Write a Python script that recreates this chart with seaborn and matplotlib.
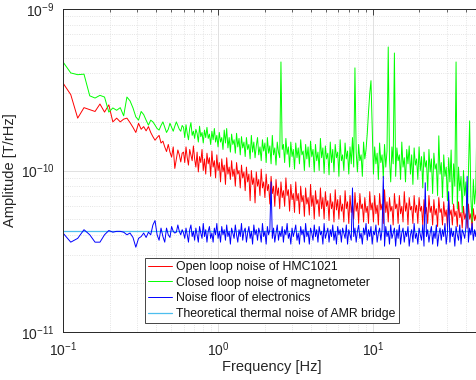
import numpy as np
import pandas as pd
import matplotlib
matplotlib.use("Agg")
import matplotlib.pyplot as plt
import seaborn as sns

# ---------------- data ----------------
# frequency grid: FFT bins (0.0122 Hz) at the low end, log-spaced above 0.6 Hz
freq_low = 0.1 + 0.0122 * np.arange(41)
freq_high = np.geomspace(0.6, 48, 240)

# amplitudes in pT (1e-12 T)
open_loop_low = [348, 295, 211, 245, 238, 232, 258, 230, 255, 200,
                 211, 200, 208, 211, 198, 185, 172, 196, 180, 187,
                 176, 187, 172, 162, 154, 160, 165, 148, 152, 140,
                 131, 145, 130, 121, 140, 103, 118, 134, 125, 113, 128]
open_loop_high = [130, 112, 140, 120, 108, 135, 125, 115, 142, 118,
                  105, 130, 98, 122, 112, 135, 100, 118, 95, 128,
                  110, 120, 92, 132, 105, 115, 90, 125, 100, 112,
                  85, 118, 98, 108, 82, 120, 95, 105, 88, 115,
                  92, 102, 80, 112, 95, 100, 78, 108, 90, 98,
                  75, 105, 85, 95, 65, 100, 82, 90, 63, 98,
                  80, 88, 70, 102, 78, 85, 68, 95, 75, 82,
                  62, 92, 72, 80, 60, 88, 70, 78, 58, 85,
                  68, 75, 60, 90, 70, 76, 56, 82, 66, 72,
                  55, 85, 65, 72, 54, 80, 64, 70, 52, 78,
                  62, 68, 53, 82, 60, 70, 50, 75, 62, 66,
                  52, 78, 58, 68, 50, 74, 60, 65, 49, 72,
                  58, 64, 48, 76, 57, 66, 50, 70, 56, 62,
                  48, 75, 58, 64, 47, 70, 55, 62, 50, 73,
                  56, 63, 47, 72, 58, 62, 48, 68, 55, 60,
                  47, 74, 57, 63, 48, 70, 54, 61, 46, 72,
                  57, 62, 47, 76, 55, 64, 48, 68, 56, 60,
                  46, 72, 58, 62, 47, 70, 54, 60, 48, 74,
                  56, 63, 46, 68, 57, 60, 47, 70, 55, 61,
                  47, 68, 56, 60, 46, 66, 54, 59, 47, 70,
                  55, 60, 46, 66, 53, 58, 45, 68, 55, 58,
                  46, 64, 52, 57, 45, 66, 53, 57, 46, 62,
                  52, 56, 45, 64, 51, 55, 44, 60, 50, 54,
                  44, 62, 50, 54, 44, 58, 49, 53, 45, 56]

closed_loop_low = [470, 402, 392, 395, 290, 281, 292, 285, 230, 244,
                   236, 245, 218, 285, 270, 244, 215, 205, 232, 222,
                   205, 191, 205, 200, 191, 182, 178, 190, 200, 185,
                   172, 180, 196, 185, 175, 188, 200, 190, 180, 175, 190]
closed_loop_high = [185, 160, 192, 170, 155, 182, 198, 165, 175, 158,
                    180, 170, 150, 188, 162, 172, 148, 178, 160, 185,
                    158, 168, 145, 175, 155, 182, 150, 165, 140, 172,
                    150, 160, 135, 178, 148, 182, 138, 160, 130, 168,
                    145, 155, 128, 170, 140, 158, 125, 162, 138, 150,
                    122, 160, 135, 145, 118, 165, 130, 150, 120, 142,
                    160, 125, 140, 115, 155, 132, 148, 112, 160, 128,
                    142, 110, 165, 125, 138, 108, 150, 130, 120, 470,
                    135, 145, 112, 158, 126, 140, 105, 150, 122, 135,
                    102, 148, 120, 138, 110, 155, 125, 132, 100, 145,
                    118, 140, 105, 152, 122, 135, 98, 145, 115, 130,
                    100, 158, 120, 138, 96, 142, 118, 128, 94, 150,
                    112, 135, 98, 145, 120, 130, 92, 155, 115, 125,
                    100, 148, 118, 132, 95, 140, 110, 160, 105, 432,
                    130, 98, 145, 115, 125, 92, 150, 118, 135, 170,
                    230, 300, 360, 180, 95, 140, 110, 128, 88, 148,
                    112, 125, 90, 145, 105, 132, 582, 118, 85, 140,
                    110, 534, 92, 138, 115, 125, 88, 150, 105, 120,
                    85, 135, 110, 142, 95, 125, 82, 138, 108, 118,
                    88, 140, 100, 122, 78, 130, 105, 115, 75, 135,
                    98, 118, 72, 128, 102, 110, 70, 164, 95, 112,
                    68, 125, 92, 105, 65, 120, 85, 134, 62, 110,
                    80, 470, 58, 105, 75, 92, 55, 100, 70, 85,
                    50, 95, 203, 68, 48, 88, 62, 78, 220, 70]

electronics_low = [41, 36, 38, 43, 40, 36, 36, 40, 42.5, 41.5,
                   42, 42, 41.5, 40, 41, 38.5, 33.5, 38, 39, 41,
                   38.5, 41.5, 40, 46, 49, 40, 37, 44, 39, 36,
                   44, 40, 38.5, 45, 42, 41, 41.5, 46, 42, 40, 43]
electronics_high = [41, 38, 44, 40, 36, 43, 46, 39, 42, 37,
                    44, 40, 36, 45, 41, 38, 47, 39, 43, 36,
                    42, 45, 38, 41, 36, 44, 40, 47, 38, 42,
                    36, 45, 40, 43, 37, 46, 39, 42, 35, 44,
                    41, 38, 46, 40, 36, 43, 39, 47, 37, 42,
                    44, 36, 41, 45, 38, 42, 35, 46, 40, 43,
                    37, 44, 41, 36, 47, 39, 42, 35, 45, 40,
                    43, 85, 38, 44, 36, 41, 46, 37, 42, 39,
                    45, 36, 43, 40, 47, 38, 41, 35, 44, 39,
                    42, 46, 37, 41, 35, 45, 40, 43, 36, 47,
                    39, 42, 35, 44, 41, 37, 46, 39, 43, 36,
                    45, 40, 42, 35, 47, 38, 41, 44, 36, 43,
                    39, 46, 37, 42, 35, 45, 40, 43, 36, 44,
                    41, 38, 46, 35, 43, 40, 37, 78, 39, 44,
                    36, 42, 46, 38, 41, 35, 44, 40, 47, 37,
                    43, 39, 45, 35, 42, 40, 46, 36, 41, 44,
                    37, 43, 92, 34, 45, 39, 42, 35, 46, 38,
                    41, 44, 34, 43, 38, 46, 35, 41, 44, 36,
                    42, 39, 45, 34, 40, 43, 36, 47, 38, 41,
                    35, 44, 40, 37, 46, 34, 84, 39, 43, 36,
                    41, 45, 35, 42, 38, 46, 34, 40, 44, 37,
                    43, 39, 47, 35, 41, 74, 36, 44, 39, 42,
                    34, 45, 40, 37, 46, 35, 43, 41, 38, 45,
                    92, 36, 44, 40, 47, 37, 43, 39, 46, 42]

thermal_level = 42.5          # pT, flat theoretical thermal noise
thermal_freq = [0.1, 50]

labels = ["Open loop noise of HMC1021",
          "Closed loop noise of magnetometer",
          "Noise floor of electronics",
          "Theoretical thermal noise of AMR bridge"]
colors = ["#ff0000", "#00ff00", "#0000ff", "#4dbeee"]

# ---------------- figure ----------------
sns.set_theme(style="white")
plt.rcParams["font.family"] = ["Liberation Sans", "DejaVu Sans"]
plt.rcParams["mathtext.default"] = "regular"

fig = plt.figure(figsize=(4.77, 3.80), dpi=100)
ax = fig.add_axes([0.1321, 0.1263, 0.8763, 0.85])
ax.set_xscale("log")
ax.set_yscale("log")

freq = np.concatenate([freq_low, freq_high])
series = [np.array(open_loop_low + open_loop_high, float),
          np.array(closed_loop_low + closed_loop_high, float),
          np.array(electronics_low + electronics_high, float)]

df_th = pd.DataFrame({"f": thermal_freq, "a": np.array([thermal_level] * 2) * 1e-12})
sns.lineplot(data=df_th, x="f", y="a", ax=ax, color=colors[3], lw=0.9,
             zorder=2.0, legend=False)
for k, vals in enumerate(series):
    d = pd.DataFrame({"f": freq, "a": vals * 1e-12})
    sns.lineplot(data=d, x="f", y="a", ax=ax, color=colors[k], lw=0.7,
                 sort=False, estimator=None, zorder=2.1 + 0.1 * k, legend=False)

# line objects in drawing order: thermal, open, closed, electronics
line_objs = ax.get_lines()
legend_lines = [line_objs[1], line_objs[2], line_objs[3], line_objs[0]]

ax.set_xlim(0.1, 50)
ax.set_ylim(1e-11, 1e-9)

dark = "#262626"
for sp in ax.spines.values():
    sp.set_color(dark)
    sp.set_linewidth(0.7)
ax.tick_params(which="both", direction="in", top=True, right=True,
               colors=dark, labelsize=10)
ax.tick_params(which="major", length=4, width=0.6, pad=6)
ax.tick_params(which="minor", length=2, width=0.5)
ax.grid(True, which="major", color="#dcdcdc", lw=0.6, ls="-")
ax.grid(True, which="minor", color="#dcdcdc", lw=0.6, ls=":")
ax.set_axisbelow(True)

ax.set_xlabel("Frequency [Hz]", fontsize=10.5, color=dark, labelpad=1)
ax.set_ylabel("Amplitude [T/rHz]", fontsize=10.5, color=dark, labelpad=3)

leg = ax.legend(legend_lines, labels,
                loc="upper left", bbox_to_anchor=(0.196, 0.229),
                borderaxespad=0, fontsize=8.8, frameon=True, fancybox=False,
                framealpha=1, edgecolor=dark, borderpad=0.25,
                labelspacing=0.3, handlelength=2.0, handletextpad=0.3)
leg.get_frame().set_linewidth(0.6)
for t in leg.get_texts():
    t.set_color("#111111")

fig.savefig("out.png", dpi=100)
